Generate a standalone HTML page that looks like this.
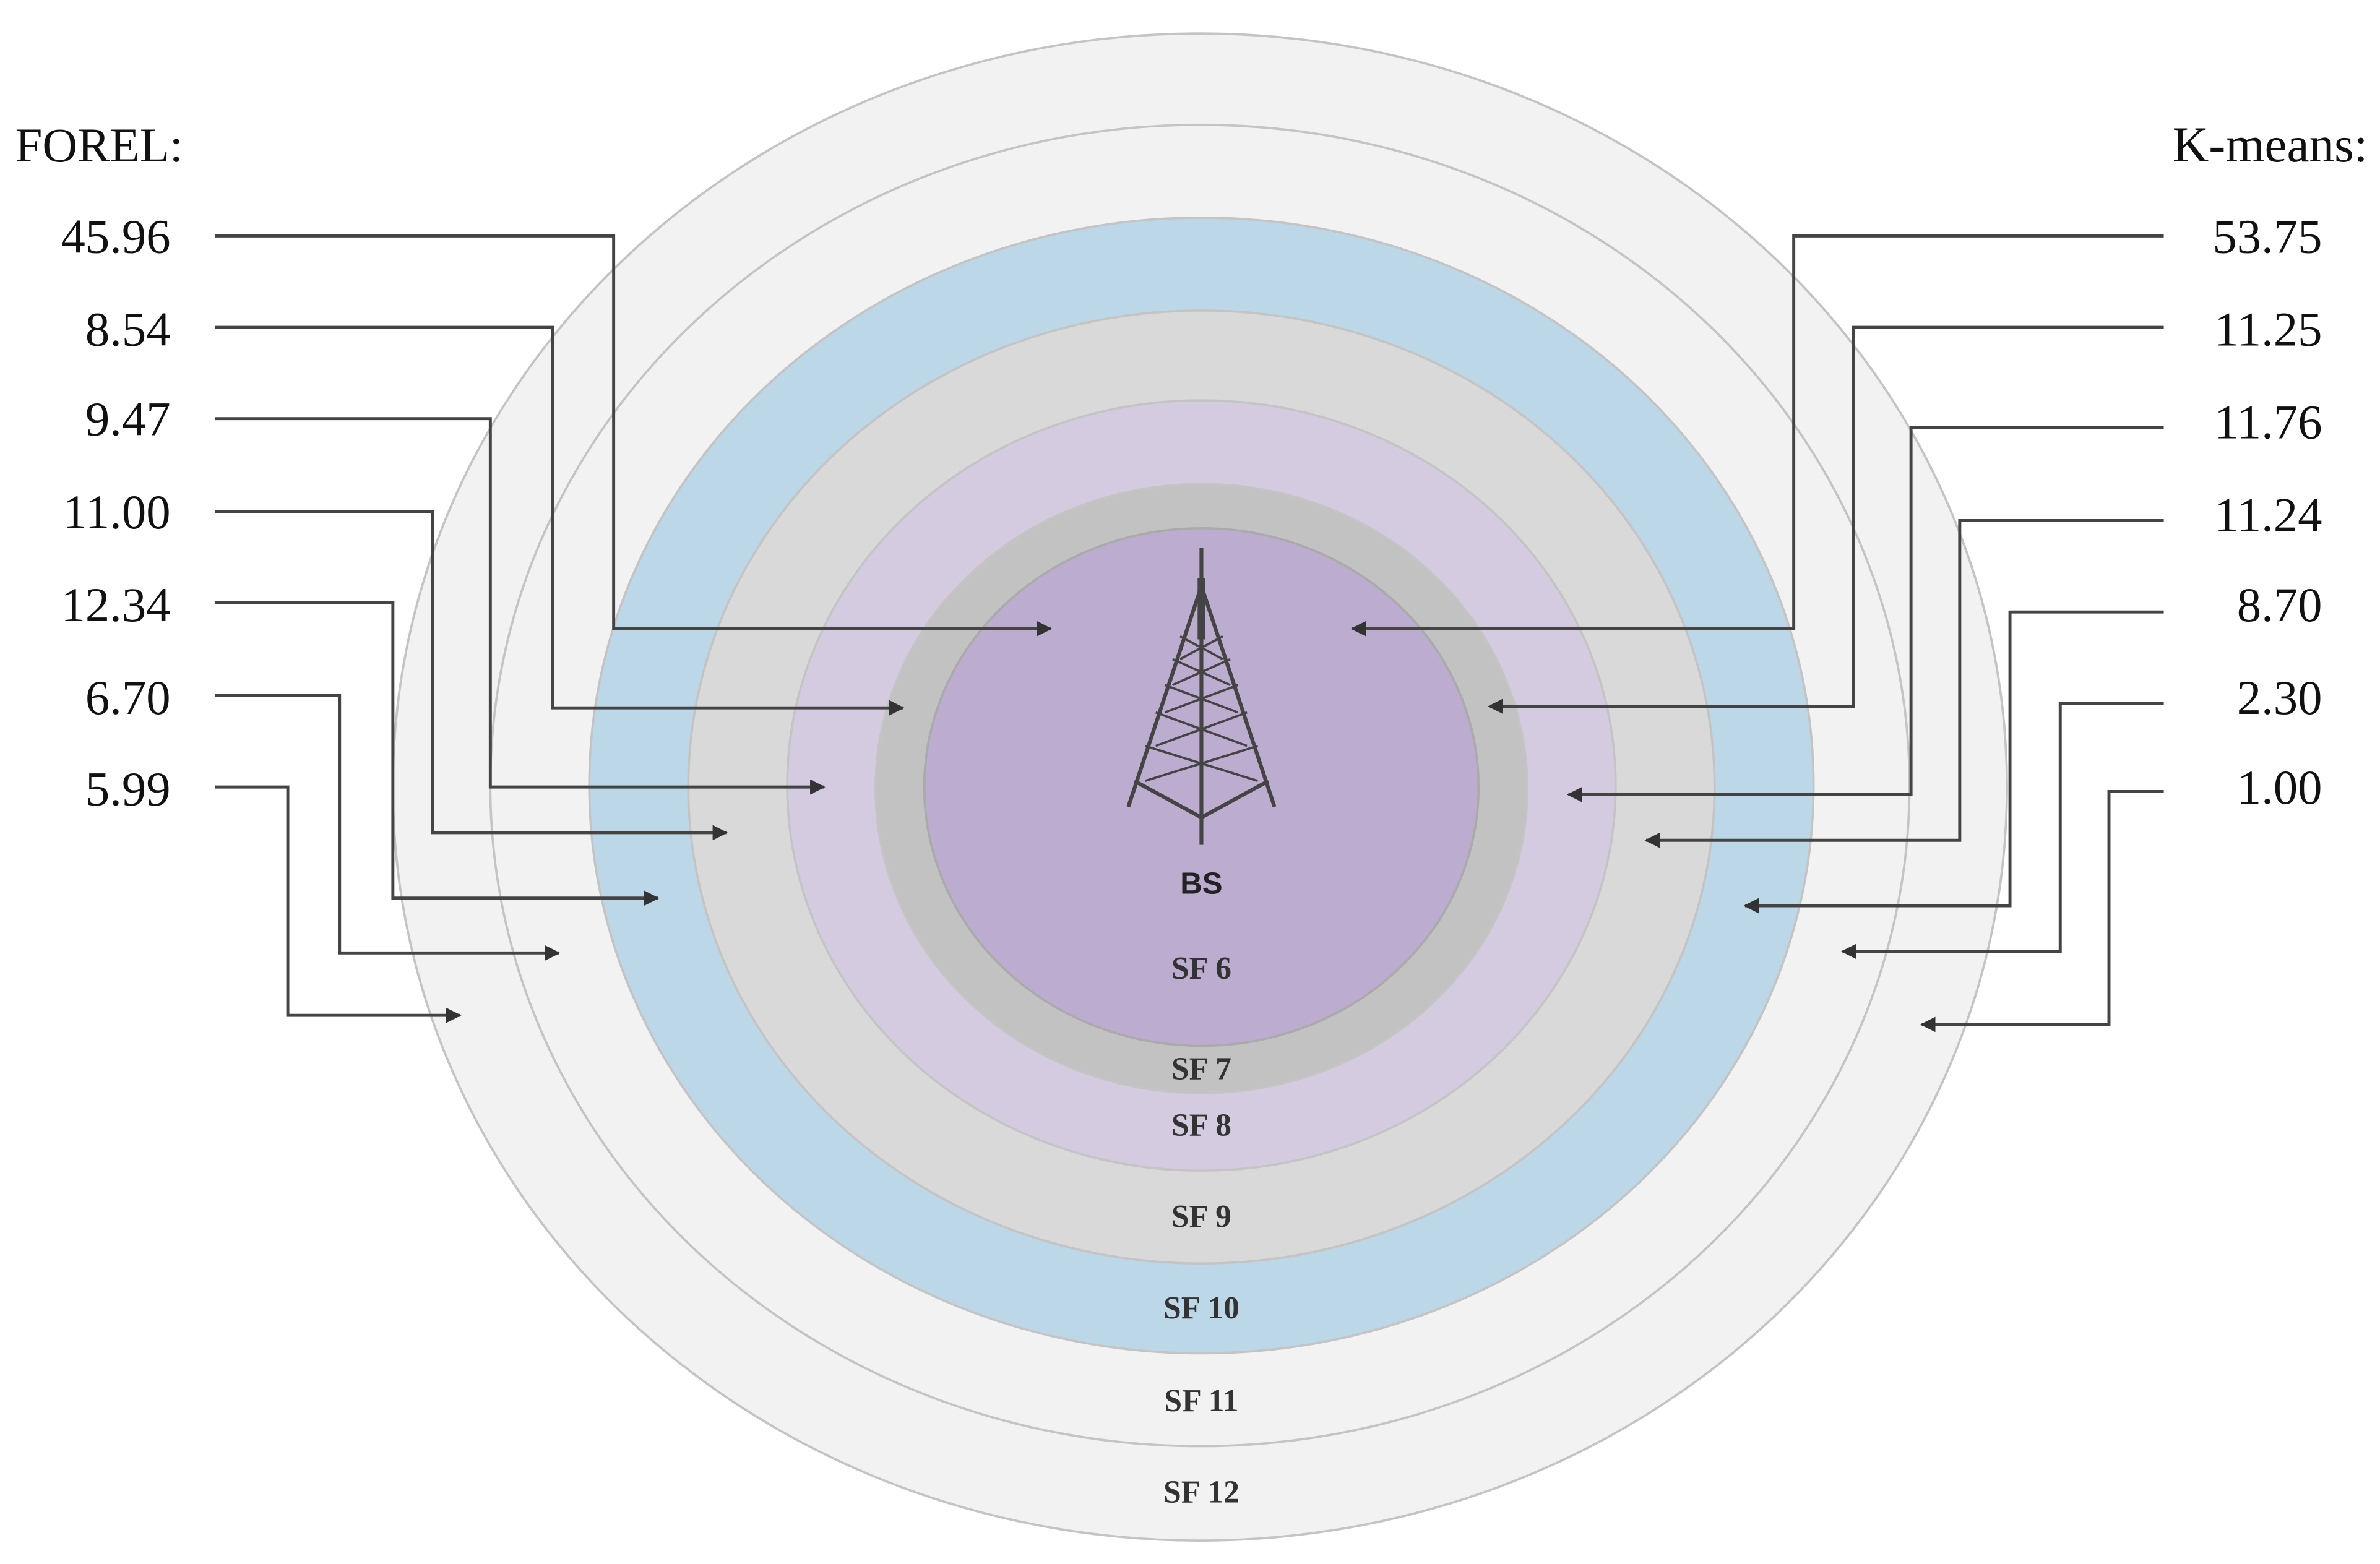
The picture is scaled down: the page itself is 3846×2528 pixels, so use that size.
<!DOCTYPE html>
<html><head><meta charset="utf-8"><style>html,body{margin:0;padding:0;background:#fff}svg{display:block}</style></head>
<body>
<svg width="3846" height="2528" viewBox="0 0 1563 1027.4" preserveAspectRatio="none" xmlns="http://www.w3.org/2000/svg">
<defs><marker id="a" markerWidth="10" markerHeight="10" refX="9" refY="5" orient="auto" markerUnits="userSpaceOnUse"><path d="M0,0 L10,5 L0,10 Z" fill="#333"/></marker></defs>
<rect width="1563" height="1028" fill="#fff"/>
<g stroke="#c4c4c4" stroke-width="1.5">
<ellipse cx="788" cy="517" rx="530" ry="495" fill="#f2f2f2"/>
<ellipse cx="788" cy="516" rx="466" ry="434" fill="#f2f2f2"/>
<ellipse cx="789" cy="516" rx="402" ry="373" fill="#bcd7e8"/>
<ellipse cx="789" cy="517" rx="337" ry="313" fill="#d9d9d9"/>
<ellipse cx="789" cy="516" rx="272" ry="253" fill="#d5cbe0"/>
<ellipse cx="789" cy="518" rx="214" ry="200" fill="#c2c2c2"/>
<ellipse cx="789" cy="517" rx="182" ry="170" fill="#bcaccf" stroke="#aaa"/>
</g>
<g stroke="#444" stroke-width="2.5" fill="none">
<line x1="789" y1="360" x2="789" y2="555"/>
<line x1="789" y1="385" x2="741" y2="530"/>
<line x1="789" y1="385" x2="837" y2="530"/>
<path d="M745,513 L789,537 L833,513"/>
<path d="M752,490 L826,513 M826,490 L752,513" stroke-width="1.5"/>
<path d="M759,468 L819,490 M819,468 L759,490" stroke-width="1.5"/>
<path d="M765,450 L813,468 M813,450 L765,468" stroke-width="1.5"/>
<path d="M770,433 L808,450 M808,433 L770,450" stroke-width="1.5"/>
<path d="M775,418 L803,433 M803,418 L775,433" stroke-width="1.5"/>
<line x1="789" y1="380" x2="789" y2="420" stroke-width="5"/>
</g>
<text x="789" y="587" font-family="Liberation Sans, sans-serif" font-weight="bold" font-size="20" text-anchor="middle" fill="#222">BS</text>
<g font-family="Liberation Serif, serif" font-weight="bold" font-size="21" text-anchor="middle" fill="#333">
<text x="789" y="643">SF 6</text><text x="789" y="709">SF 7</text><text x="789" y="746">SF 8</text>
<text x="789" y="806">SF 9</text><text x="789" y="866">SF 10</text><text x="789" y="927">SF 11</text><text x="789" y="987">SF 12</text>
</g>
<g stroke="#444" stroke-width="2" fill="none" marker-end="url(#a)">
<polyline points="141,155 403,155 403,413 690,413"/>
<polyline points="141,215 363,215 363,465 593,465"/>
<polyline points="141,275 322,275 322,517 541,517"/>
<polyline points="141,336 284,336 284,547 477,547"/>
<polyline points="141,396 258,396 258,590 432,590"/>
<polyline points="141,457 223,457 223,626 367,626"/>
<polyline points="141,517 189,517 189,667 302,667"/>
<polyline points="1421,155 1178,155 1178,413 888,413"/>
<polyline points="1421,215 1217,215 1217,464 978,464"/>
<polyline points="1421,281 1255,281 1255,522 1030,522"/>
<polyline points="1421,342 1287,342 1287,552 1081,552"/>
<polyline points="1421,402 1320,402 1320,595 1146,595"/>
<polyline points="1421,462 1353,462 1353,625 1210,625"/>
<polyline points="1421,520 1385,520 1385,673 1262,673"/>
</g>
<g font-family="Liberation Serif, serif" font-size="32" fill="#111">
<text x="10" y="106">FOREL:</text>
<text x="1555" y="106" text-anchor="end" font-size="33">K-means:</text>
<g text-anchor="end">
<text x="112" y="166">45.96</text><text x="112" y="227">8.54</text><text x="112" y="286">9.47</text>
<text x="112" y="347">11.00</text><text x="112" y="408">12.34</text><text x="112" y="469">6.70</text><text x="112" y="529">5.99</text>
<text x="1525" y="166">53.75</text><text x="1525" y="227">11.25</text><text x="1525" y="288">11.76</text>
<text x="1525" y="349">11.24</text><text x="1525" y="408">8.70</text><text x="1525" y="469">2.30</text><text x="1525" y="528">1.00</text>
</g></g>
</svg>
</body></html>
